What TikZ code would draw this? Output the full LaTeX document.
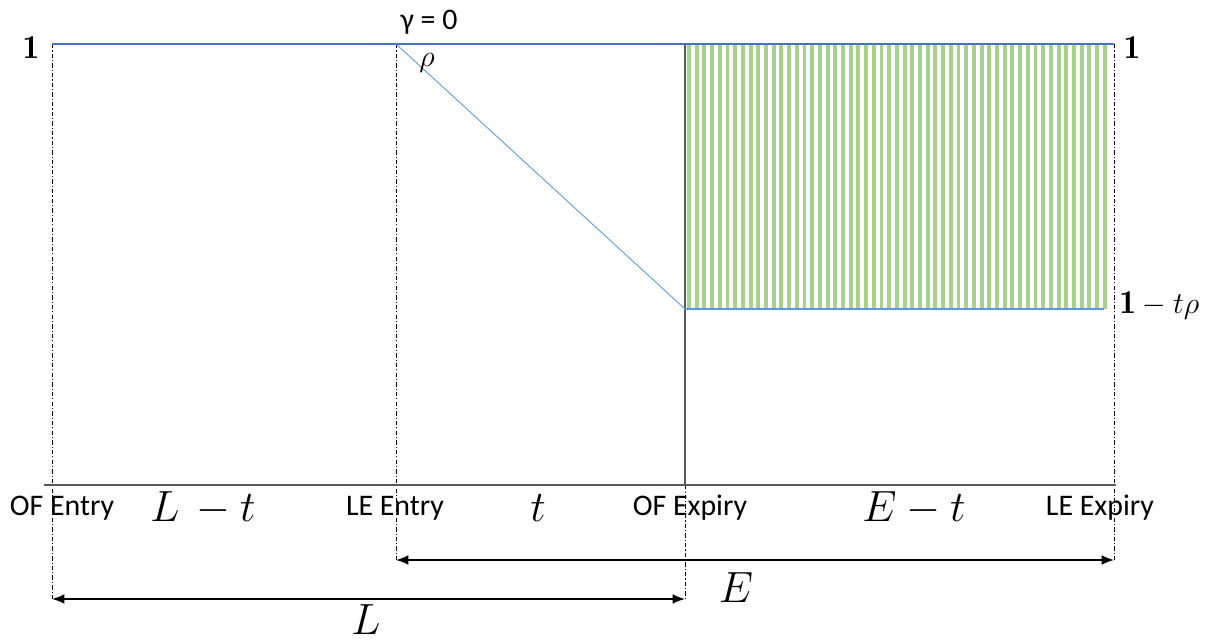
\documentclass[tikz,border=0pt]{standalone}
\usepackage{amsmath}
\usepackage{fontspec}
\newfontfamily\calib{Carlito}
\usetikzlibrary{arrows.meta,positioning}
\definecolor{lineblue}{HTML}{4472C4}
\definecolor{slopeblue}{HTML}{5B9BD5}
\definecolor{stripegreen}{HTML}{A9D18E}
\definecolor{axisgray}{HTML}{595959}
\tikzset{
  guide/.style={black, line width=0.5pt, dash pattern=on 2.5pt off 1.2pt on 0.6pt off 1.2pt},
  span/.style={black, line width=0.9pt, {Latex[length=7pt,width=5.5pt]}-{Latex[length=7pt,width=5.5pt]}},
  tag/.style={font=\calib\fontsize{17}{19}\selectfont, anchor=base, inner sep=0pt},
  sym/.style={font=\fontsize{23}{25}\selectfont, inner sep=0pt},
  lvl/.style={font=\fontsize{19}{21}\selectfont, inner sep=0pt},
}

\begin{document}
\begin{tikzpicture}[x=0.02cm,y=-0.02cm]
  \useasboundingbox (0,0) rectangle (1214,642);
  % key points
  \coordinate (oeTop) at (52,44);
  \coordinate (leTop) at (396,44);
  \coordinate (ofTop) at (685,44);
  \coordinate (lxTop) at (1114,44);
  \coordinate (ofLow) at (685,309);
  \coordinate (lxLow) at (1104,309);
  \coordinate (axL) at (44,485);
  \coordinate (axR) at (1116,485);
  \coordinate (ofAx) at (685,485);
  \coordinate (eL) at (396,560);
  \coordinate (eR) at (1114,560);
  \coordinate (lL) at (52,599);
  \coordinate (lR) at (685,599);
  \coordinate (lBoldA) at (245,599);
  \coordinate (lBoldB) at (490,599);

  % striped region
  \begin{scope}
    \clip (686,44) rectangle (1110,309);
    \foreach \i in {0,...,55}
      \fill[stripegreen] (687+7.7*\i,44) rectangle ++(3.9,265);
  \end{scope}

  % guide lines
  \draw[guide] (oeTop) -- (lL);
  \draw[guide] (leTop) -- (eL);
  \draw[guide] (ofAx) -- (lR);
  \draw[guide] (lxTop) -- (eR);
  \draw[axisgray, line width=0.9pt] (ofTop) -- (ofAx);
  \draw[axisgray, line width=1pt] (axL) -- (axR);

  % value path
  \draw[lineblue, line width=1pt] (oeTop) -- (lxTop);
  \draw[slopeblue, line width=0.5pt] (leTop) -- (ofLow);
  \draw[slopeblue, line width=0.8pt] (ofLow) -- (lxLow);

  % spans
  \draw[span] (eL) -- (eR);
  \draw[span] (lL) -- (lR);
  \draw[black, line width=1.6pt] (lBoldA) -- (lBoldB);

  % labels
  \node[lvl] (oneL) at (31,48) {$\mathbf{1}$};
  \node[lvl] (oneR) at (1132,48) {$\mathbf{1}$};
  \node[lvl, anchor=base west] (lowLvl) at (1119,313) {$\mathbf{1}-t\rho$};
  \node[tag] (gamma) at (429,30) {γ = 0};
  \node[font=\fontsize{17}{19}\selectfont, inner sep=0pt] (rho) at (427,63) {$\rho$};
  \node[tag] (ofEntry) at (62,515) {OF Entry};
  \node[tag] (leEntry) at (395,515) {LE Entry};
  \node[tag] (ofExpiry) at (690,515) {OF Expiry};
  \node[tag] (leExpiry) at (1100,515) {LE Expiry};
  \node[sym] (lMinusT) at (203,508) {$L\,-t$};
  \node[sym] (tLen) at (538,508) {$t$};
  \node[sym] (eMinusT) at (914,508) {$E-t$};
  \node[sym] (eLen) at (736,588) {$E$};
  \node[sym] (lLen) at (366,620) {$L$};
\end{tikzpicture}
\end{document}
